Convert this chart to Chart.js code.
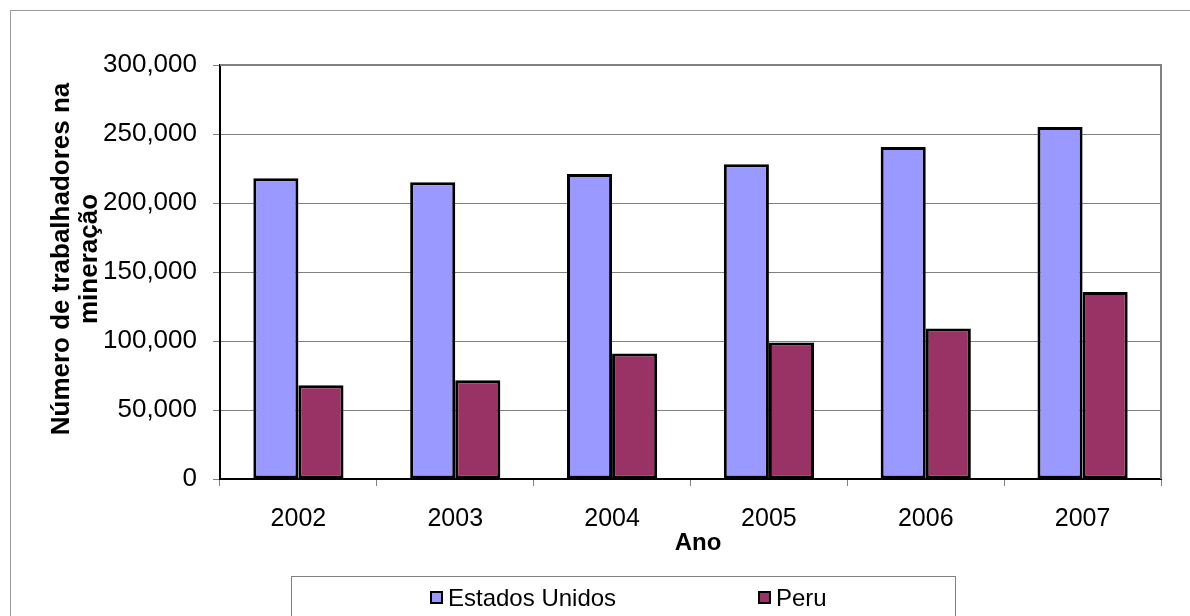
<!DOCTYPE html>
<html>
<head>
<meta charset="utf-8">
<script src="https://cdn.jsdelivr.net/npm/chart.js@4.4.0/dist/chart.umd.min.js"></script>
<style>
  html, body { margin: 0; padding: 0; background: #fff; }
  #wrap { width: 1190px; height: 616px; }
</style>
</head>
<body>
<div id="wrap"><canvas id="myChart" width="1190" height="616"></canvas></div>
<script>
// dados
const anos = ['2002', '2003', '2004', '2005', '2006', '2007'];
const estadosUnidos = [218000, 215000, 221000, 228000, 240500, 255000];
const peru = [68000, 71500, 91000, 99000, 109000, 135500];
const yMin = 0;
const yMax = 300000;
const yStep = 50000;

const fonte = '"Liberation Sans", Arial, sans-serif';

// moldura externa, borda da área do gráfico, títulos dos eixos e legenda
const extras = {
  id: 'extras',
  beforeDraw(chart) {
    const c = chart.ctx;
    c.save();
    c.strokeStyle = '#9a9a9a';
    c.lineWidth = 1;
    c.strokeRect(10.5, 10.5, 1200, 700);
    c.restore();
  },
  afterDraw(chart) {
    const c = chart.ctx;
    const a = chart.chartArea;
    c.save();
    // topo e lado direito da área de plotagem
    c.strokeStyle = '#808080';
    c.lineWidth = 2;
    c.beginPath();
    c.moveTo(a.left, a.top);
    c.lineTo(a.right, a.top);
    c.lineTo(a.right, a.bottom);
    c.stroke();

    // título do eixo Y (duas linhas, girado)
    c.fillStyle = '#000';
    c.font = 'bold 26px ' + fonte;
    c.textAlign = 'center';
    c.textBaseline = 'middle';
    c.translate(62, 259);
    c.rotate(-Math.PI / 2);
    c.fillText('Número de trabalhadores na', 0, 0);
    c.fillText('mineração', 0, 28);
    c.setTransform(1, 0, 0, 1, 0, 0);

    // título do eixo X
    c.font = 'bold 24px ' + fonte;
    c.textBaseline = 'alphabetic';
    c.fillText('Ano', 698, 550);

    // legenda com caixa
    c.strokeStyle = '#808080';
    c.lineWidth = 1;
    c.strokeRect(291.5, 576.5, 664, 60);
    const itensX = [430, 758];
    c.font = '24px ' + fonte;
    c.textAlign = 'left';
    c.textBaseline = 'middle';
    chart.data.datasets.forEach((ds, i) => {
      const x = itensX[i];
      c.fillStyle = ds.backgroundColor;
      c.fillRect(x, 591, 13, 13);
      c.strokeStyle = '#000';
      c.lineWidth = 2;
      c.strokeRect(x + 1, 592, 11, 11);
      c.fillStyle = '#000';
      c.fillText(ds.label, x + 18, 599);
    });
    c.restore();
  }
};

const ctx = document.getElementById('myChart').getContext('2d');

const chart = new Chart(ctx, {
  type: 'bar',
  data: {
    labels: anos,
    datasets: [
      {
        label: 'Estados Unidos',
        data: estadosUnidos,
        backgroundColor: '#9999FF',
        borderColor: '#000',
        borderWidth: 3,
        borderSkipped: false
      },
      {
        label: 'Peru',
        data: peru,
        backgroundColor: '#993366',
        borderColor: '#000',
        borderWidth: 3,
        borderSkipped: false
      }
    ]
  },
  options: {
    responsive: false,
    animation: false,
    devicePixelRatio: 1,
    categoryPercentage: 0.575,
    barPercentage: 1,
    layout: {
      padding: { top: 65, right: 29, left: 0, bottom: 0 }
    },
    plugins: {
      legend: { display: false },
      tooltip: { enabled: false }
    },
    scales: {
      x: {
        grid: {
          offset: true,
          drawOnChartArea: false,
          tickLength: 7,
          color: '#808080'
        },
        border: { display: true, color: '#000', width: 2 },
        ticks: {
          color: '#000',
          padding: 18,
          font: { family: fonte, size: 25 }
        },
        afterFit(scale) { scale.height = 137; }
      },
      y: {
        min: yMin,
        max: yMax,
        grid: {
          color: '#808080',
          lineWidth: 1,
          tickLength: 7
        },
        border: { display: true, color: '#000', width: 2 },
        ticks: {
          stepSize: yStep,
          color: '#000',
          padding: 16,
          font: { family: fonte, size: 26 },
          callback: (v) => v.toLocaleString('en-US')
        },
        afterFit(scale) { scale.width = 220; }
      }
    }
  },
  plugins: [extras]
});
</script>
</body>
</html>
